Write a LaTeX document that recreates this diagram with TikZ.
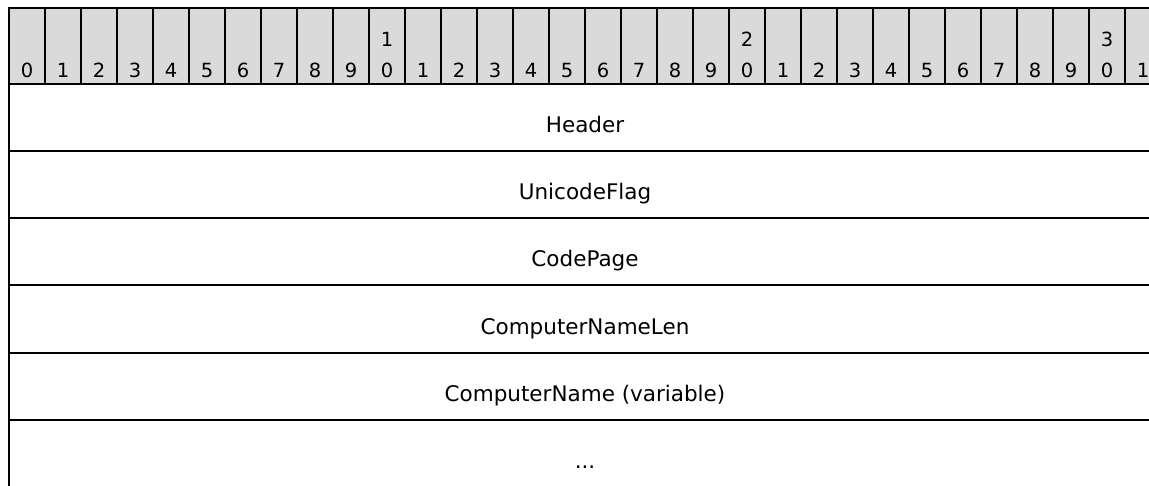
\documentclass[tikz,border=0pt]{standalone}
\usepackage{fontspec}
\setmainfont{DejaVu Sans}
\definecolor{hdrgray}{RGB}{218,218,218}
\begin{document}
\begin{tikzpicture}[x=1pt,y=-1pt,
  rule/.style={line width=2.2pt,black},
  sep/.style={line width=1.4pt,black},
  bitnum/.style={font=\fontsize{19.5}{19.5}\selectfont,anchor=base,inner sep=0pt},
  field/.style={font=\fontsize{21.5}{24}\selectfont,anchor=base,inner sep=0pt}]
\useasboundingbox (0,0) rectangle (1149,485);
\clip (0,0) rectangle (1149,485);
% header band
\fill[hdrgray] (9,8) rectangle (1161,84);
\foreach \i in {1,...,31}{
  \draw[sep] ({9+36*\i},8) -- ({9+36*\i},84);
}
\foreach \i in {0,...,31}{
  \pgfmathtruncatemacro{\ones}{int(mod(\i,10))}
  \node[bitnum] (b\i) at ({27+36*\i},77) {\ones};
}
\node[bitnum] (t10) at ({27+36*10},46) {1};
\node[bitnum] (t20) at ({27+36*20},46) {2};
\node[bitnum] (t30) at ({27+36*30},46) {3};
% horizontal rules
\foreach \y in {8,84,151,218,285,353,420}{
  \draw[rule] (8,\y) -- (1170,\y);
}
% left border
\draw[rule] (9,7) -- (9,490);
% field labels
\node[field] (f1) at (585,132) {Header};
\node[field] (f2) at (585,199) {UnicodeFlag};
\node[field] (f3) at (585,266) {CodePage};
\node[field] (f4) at (585,334) {ComputerNameLen};
\node[field] (f5) at (585,401) {ComputerName (variable)};
\node[field] (f6) at (585,468) {...};
\end{tikzpicture}
\end{document}
